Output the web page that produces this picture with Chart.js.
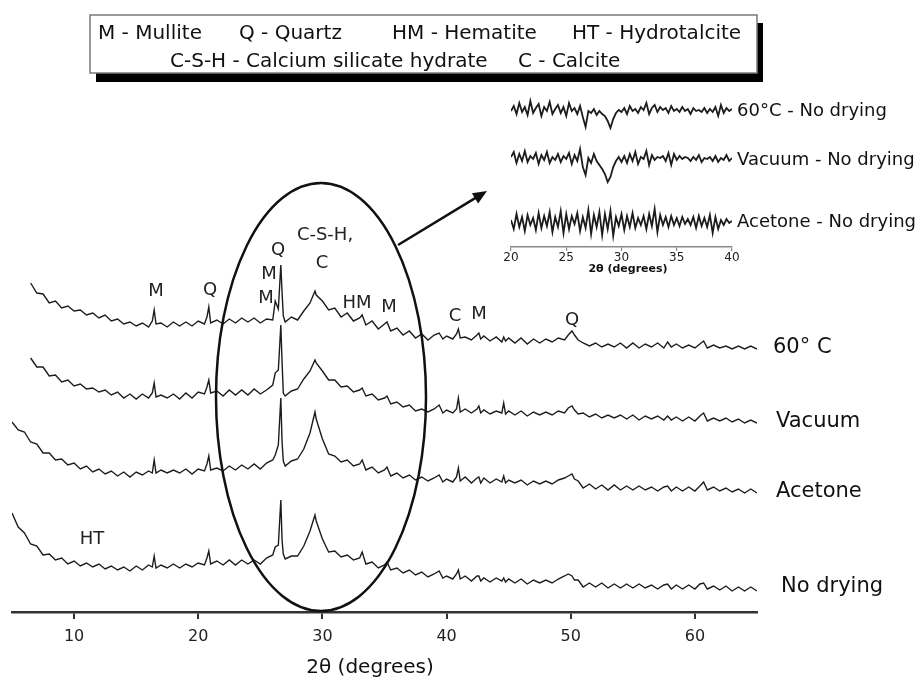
<!DOCTYPE html>
<html>
<head>
<meta charset="utf-8">
<script src="https://cdn.jsdelivr.net/npm/chart.js@4.4.1/dist/chart.umd.min.js"></script>
<style>
  html, body { margin: 0; padding: 0; background: #fff; }
  #wrap { position: relative; width: 920px; height: 682px; }
  #main { position: absolute; left: 0; top: 0; }
  #inset { position: absolute; left: 490px; top: 85px; }
</style>
</head>
<body>
<div id="wrap">
  <canvas id="main" width="920" height="682"></canvas>
  <canvas id="inset" width="430" height="190"></canvas>
</div>
<script>
// XRD patterns, stacked (intensity offset per sample, arbitrary units)

const twoTheta = [
  5.0, 5.5, 6.0, 6.5, 7.0, 7.5, 8.0, 8.5, 9.0, 9.5,
  10.0, 10.5, 11.0, 11.5, 12.0, 12.5, 13.0, 13.5, 14.0, 14.5,
  15.0, 15.5, 16.0, 16.3, 16.45, 16.6, 17.0, 17.5, 18.0, 18.5,
  19.0, 19.5, 20.0, 20.5, 20.7, 20.85, 21.0, 21.5, 22.0, 22.5,
  23.0, 23.5, 24.0, 24.5, 25.0, 25.5, 26.0, 26.2, 26.45, 26.65,
  26.75, 26.85, 27.0, 27.5, 28.0, 28.5, 29.0, 29.4, 29.5, 30.0,
  30.5, 31.0, 31.5, 32.0, 32.5, 33.0, 33.2, 33.5, 34.0, 34.5,
  35.0, 35.2, 35.5, 36.0, 36.5, 37.0, 37.5, 38.0, 38.5, 39.0,
  39.4, 39.7, 40.0, 40.5, 40.8, 40.95, 41.1, 41.5, 42.0, 42.45,
  42.6, 42.75, 43.0, 43.5, 44.0, 44.45, 44.6, 44.75, 45.0, 45.5,
  46.0, 46.5, 47.0, 47.5, 48.0, 48.5, 49.0, 49.5, 49.8, 50.1,
  50.3, 50.6, 51.0, 51.5, 52.0, 52.5, 53.0, 53.5, 54.0, 54.5,
  55.0, 55.5, 56.0, 56.5, 57.0, 57.5, 57.8, 58.1, 58.5, 59.0,
  59.5, 60.0, 60.4, 60.7, 61.0, 61.5, 62.0, 62.5, 63.0, 63.5,
  64.0, 64.5, 65.0
];

const dried60C = [
  null, null, null, 329, 319, 318, 309, 311, 304, 306,
  301, 302, 297, 299, 294, 297, 291, 293, 288, 290,
  286, 289, 285, 291, 302, 288, 289, 285, 290, 286,
  290, 286, 291, 288, 295, 305, 289, 292, 288, 293,
  289, 294, 290, 294, 289, 293, 292, 311, 303, 347,
  320, 296, 290, 295, 292, 301, 309, 321, 317, 311,
  302, 304, 295, 299, 291, 294, 297, 287, 291, 283,
  288, 290, 281, 284, 277, 281, 274, 278, 272, 277,
  279, 273, 276, 273, 278, 283, 274, 275, 272, 277,
  279, 273, 276, 271, 275, 270, 275, 271, 274, 269,
  274, 268, 273, 269, 273, 270, 274, 272, 277, 281,
  277, 272, 269, 266, 269, 265, 268, 265, 269, 264,
  269, 264, 268, 265, 269, 264, 270, 265, 268, 264,
  267, 264, 268, 271, 264, 267, 264, 266, 263, 266,
  263, 266, 263
];

const vacuum = [
  null, null, null, 254, 245, 245, 236, 237, 230, 232,
  226, 228, 223, 224, 220, 222, 217, 220, 214, 218,
  213, 218, 214, 219, 229, 215, 217, 214, 218, 213,
  219, 214, 220, 218, 225, 232, 219, 221, 216, 222,
  217, 222, 217, 223, 218, 222, 227, 239, 242, 287,
  250, 219, 216, 221, 223, 233, 241, 252, 249, 241,
  232, 232, 225, 226, 220, 222, 224, 216, 218, 212,
  214, 216, 208, 210, 205, 207, 201, 203, 200, 203,
  207, 199, 202, 199, 203, 214, 200, 203, 199, 203,
  206, 199, 202, 198, 201, 199, 209, 198, 201, 197,
  201, 196, 200, 197, 200, 197, 201, 199, 204, 206,
  202, 198, 199, 195, 198, 194, 197, 194, 197, 193,
  197, 192, 196, 193, 196, 192, 196, 192, 195, 191,
  195, 191, 196, 199, 191, 194, 191, 194, 190, 193,
  189, 192, 189
];

const acetone = [
  190, 182, 180, 170, 168, 159, 159, 152, 153, 147,
  149, 143, 146, 140, 143, 138, 141, 136, 140, 135,
  140, 137, 141, 139, 152, 139, 142, 139, 142, 139,
  143, 138, 143, 141, 148, 156, 142, 144, 141, 146,
  142, 147, 143, 148, 143, 149, 152, 157, 167, 214,
  170, 151, 146, 151, 153, 163, 179, 200, 193, 173,
  158, 156, 150, 152, 146, 148, 152, 142, 145, 139,
  142, 145, 136, 139, 134, 137, 132, 135, 131, 134,
  137, 130, 133, 130, 135, 144, 131, 135, 129, 134,
  135, 129, 134, 129, 133, 130, 136, 129, 132, 129,
  132, 127, 131, 128, 131, 128, 132, 134, 136, 138,
  133, 131, 124, 128, 123, 127, 122, 127, 122, 126,
  122, 126, 122, 125, 121, 125, 126, 121, 125, 121,
  125, 121, 126, 130, 122, 125, 121, 124, 120, 123,
  119, 123, 119
];

const noDrying = [
  99, 85, 79, 68, 66, 57, 58, 52, 54, 48,
  51, 46, 49, 45, 48, 43, 46, 42, 45, 41,
  46, 42, 47, 45, 56, 44, 47, 44, 48, 44,
  48, 45, 49, 47, 54, 61, 48, 51, 47, 52,
  47, 52, 48, 52, 48, 54, 57, 65, 67, 112,
  72, 58, 53, 56, 56, 66, 81, 97, 91, 73,
  60, 61, 55, 57, 52, 54, 60, 48, 50, 44,
  47, 50, 42, 44, 39, 42, 37, 40, 35, 38,
  41, 34, 36, 33, 38, 42, 33, 36, 31, 36,
  36, 31, 34, 30, 34, 31, 34, 30, 33, 29,
  33, 28, 32, 29, 32, 29, 33, 36, 38, 36,
  32, 32, 25, 29, 25, 29, 24, 28, 24, 28,
  24, 28, 24, 27, 23, 27, 28, 23, 27, 23,
  27, 23, 28, 29, 23, 26, 22, 26, 21, 25,
  21, 25, 21
];

const mainTicks = [10, 20, 30, 40, 50, 60];
const sampleNames = ['60° C', 'Vacuum', 'Acetone', 'No drying'];

// inset: difference patterns (sample minus no drying), offset
const insetTheta = [
  20.0, 20.25, 20.5, 20.75, 21.0, 21.25, 21.5, 21.75,
  22.0, 22.25, 22.5, 22.75, 23.0, 23.25, 23.5, 23.75,
  24.0, 24.25, 24.5, 24.75, 25.0, 25.25, 25.5, 25.75,
  26.0, 26.25, 26.5, 26.75, 27.0, 27.25, 27.5, 27.75,
  28.0, 28.25, 28.5, 28.75, 29.0, 29.25, 29.5, 29.75,
  30.0, 30.25, 30.5, 30.75, 31.0, 31.25, 31.5, 31.75,
  32.0, 32.25, 32.5, 32.75, 33.0, 33.25, 33.5, 33.75,
  34.0, 34.25, 34.5, 34.75, 35.0, 35.25, 35.5, 35.75,
  36.0, 36.25, 36.5, 36.75, 37.0, 37.25, 37.5, 37.75,
  38.0, 38.25, 38.5, 38.75, 39.0, 39.25, 39.5, 39.75,
  40.0
];

const diff60C = [
  136, 141, 133, 144, 135, 140, 132, 146,
  134, 139, 143, 131, 140, 136, 145, 133,
  138, 142, 134, 140, 131, 144, 136, 139,
  133, 141, 130, 120, 136, 134, 138, 132,
  136, 133, 131, 126, 119, 128, 134, 137,
  135, 139, 133, 141, 136, 138, 134, 140,
  137, 144, 133, 139, 142, 135, 140, 137,
  139, 134, 141, 136, 138, 135, 140, 136,
  138, 133, 139, 136, 137, 135, 139, 134,
  138, 135, 140, 131, 142, 134, 139, 136,
  138
];

const diffVacuum = [
  90, 95, 84, 93, 86, 96, 85, 91,
  88, 94, 83, 92, 87, 95, 84, 90,
  87, 93, 85, 91, 88, 94, 83, 92,
  86, 98, 80, 72, 89, 84, 93, 86,
  82, 78, 73, 65, 70, 80, 86, 90,
  85, 91, 84, 93, 86, 95, 83, 90,
  88, 96, 82, 92, 87, 90, 89, 91,
  86, 94, 82, 93, 87, 91, 88, 90,
  89, 86, 90, 87, 92, 85, 89, 88,
  90, 86, 91, 85, 89, 87, 92, 86,
  89
];

const diffAcetone = [
  27, 18, 33, 20, 30, 16, 32, 22,
  29, 17, 34, 19, 31, 21, 35, 15,
  30, 20, 36, 14, 33, 18, 31, 23,
  34, 16, 30, 19, 37, 13, 32, 20,
  35, 12, 33, 18, 36, 11, 30, 21,
  33, 17, 31, 20, 34, 19, 29, 22,
  31, 18, 33, 21, 38, 15, 32, 22,
  30, 20, 31, 22, 29, 21, 30, 23,
  28, 22, 30, 19, 31, 21, 29, 20,
  32, 14, 30, 18, 27, 22, 28, 24,
  26
];

const insetTicks = [20, 25, 30, 35, 40];
const insetNames = ['60°C - No drying', 'Vacuum - No drying', 'Acetone - No drying'];

// annotation text (pixel placement)
const legendItems = [
  ['M - Mullite', 98, 34], ['Q - Quartz', 239, 34], ['HM - Hematite', 392, 34],
  ['HT - Hydrotalcite', 572, 34],
  ['C-S-H - Calcium silicate hydrate', 170, 62], ['C - Calcite', 518, 62]
];
const peakLabels = [
  ['M', 156, 291], ['Q', 210, 290], ['M', 269, 274], ['M', 266, 298],
  ['Q', 278, 250], ['C-S-H,', 325, 235], ['C', 322, 263],
  ['HM', 357, 303], ['M', 389, 307], ['C', 455, 316], ['M', 479, 314],
  ['Q', 572, 320], ['HT', 92, 539]
];
const sampleLabelPos = [[773, 348], [776, 422], [776, 492], [781, 587]];

const FONT = '"DejaVu Sans", Verdana, sans-serif';
const pts = (xs, ys) => xs.map((x, i) => ({ x, y: ys[i] }));

function lineSet(label, xs, ys, width) {
  return {
    label,
    data: pts(xs, ys),
    borderColor: '#1c1c1c',
    borderWidth: width,
    pointRadius: 0,
    tension: 0,
    spanGaps: false
  };
}

const overlay = {
  id: 'overlay',
  afterDraw(chart) {
    const ctx = chart.ctx;
    ctx.save();

    // legend box with drop shadow
    ctx.fillStyle = '#000';
    ctx.fillRect(96, 23, 667, 59);
    ctx.fillStyle = '#fff';
    ctx.fillRect(90, 15, 667, 58);
    ctx.strokeStyle = '#7a7a7a';
    ctx.lineWidth = 1.5;
    ctx.strokeRect(90, 15, 667, 58);

    ctx.fillStyle = '#111';
    ctx.textBaseline = 'middle';
    ctx.textAlign = 'left';
    ctx.font = '20px ' + FONT;
    legendItems.forEach(([t, x, y]) => ctx.fillText(t, x, y));

    // peak labels
    ctx.textAlign = 'center';
    ctx.font = '18px ' + FONT;
    ctx.fillStyle = '#222';
    peakLabels.forEach(([t, x, y]) => ctx.fillText(t, x, y));

    // sample names
    ctx.textAlign = 'left';
    ctx.font = '21px ' + FONT;
    ctx.fillStyle = '#111';
    sampleNames.forEach((t, i) => ctx.fillText(t, sampleLabelPos[i][0], sampleLabelPos[i][1]));

    // x axis title
    ctx.textAlign = 'center';
    ctx.font = '20px ' + FONT;
    ctx.fillText('2θ (degrees)', 370, 668);

    // ellipse around 20-40 region
    ctx.strokeStyle = '#111';
    ctx.lineWidth = 2.5;
    ctx.beginPath();
    ctx.ellipse(321, 397, 105, 214, 0, 0, Math.PI * 2);
    ctx.stroke();

    // arrow to inset
    const x0 = 398, y0 = 245, x1 = 487, y1 = 191;
    const a = Math.atan2(y1 - y0, x1 - x0);
    ctx.beginPath();
    ctx.moveTo(x0, y0);
    ctx.lineTo(x1 - 10 * Math.cos(a), y1 - 10 * Math.sin(a));
    ctx.stroke();
    ctx.beginPath();
    ctx.moveTo(x1, y1);
    ctx.lineTo(x1 - 14 * Math.cos(a) + 6 * Math.sin(a), y1 - 14 * Math.sin(a) - 6 * Math.cos(a));
    ctx.lineTo(x1 - 14 * Math.cos(a) - 6 * Math.sin(a), y1 - 14 * Math.sin(a) + 6 * Math.cos(a));
    ctx.closePath();
    ctx.fillStyle = '#111';
    ctx.fill();

    ctx.restore();
  }
};

new Chart(document.getElementById('main'), {
  type: 'line',
  data: {
    datasets: [
      lineSet(sampleNames[0], twoTheta, dried60C, 1.4),
      lineSet(sampleNames[1], twoTheta, vacuum, 1.4),
      lineSet(sampleNames[2], twoTheta, acetone, 1.4),
      lineSet(sampleNames[3], twoTheta, noDrying, 1.4)
    ]
  },
  options: {
    responsive: false,
    animation: false,
    layout: { padding: { left: 12, right: 163, top: 0, bottom: 0 } },
    plugins: { legend: { display: false }, tooltip: { enabled: false } },
    scales: {
      x: {
        type: 'linear',
        min: 5,
        max: 65,
        afterBuildTicks: (s) => { s.ticks = mainTicks.map(v => ({ value: v })); },
        afterFit: (s) => { s.height = 70; },
        ticks: { font: { family: FONT, size: 16 }, color: '#222', padding: 8, maxRotation: 0 },
        grid: { display: true, drawOnChartArea: false, drawTicks: true, tickLength: 7, color: '#333', lineWidth: 2 },
        border: { display: true, color: '#333', width: 2.5 }
      },
      y: { display: false, min: 0, max: 612 }
    }
  },
  plugins: [overlay]
});

const insetOverlay = {
  id: 'insetOverlay',
  afterDraw(chart) {
    const ctx = chart.ctx;
    ctx.save();
    ctx.fillStyle = '#111';
    ctx.textBaseline = 'middle';
    ctx.textAlign = 'left';
    ctx.font = '18px ' + FONT;
    const yPix = [26, 75, 137];
    insetNames.forEach((t, i) => ctx.fillText(t, 247, yPix[i]));
    ctx.textAlign = 'center';
    ctx.font = 'bold 11px ' + FONT;
    ctx.fillText('2θ (degrees)', 138, 184);
    ctx.restore();
  }
};

new Chart(document.getElementById('inset'), {
  type: 'line',
  data: {
    datasets: [
      lineSet(insetNames[0], insetTheta, diff60C, 1.8),
      lineSet(insetNames[1], insetTheta, diffVacuum, 1.8),
      lineSet(insetNames[2], insetTheta, diffAcetone, 1.8)
    ]
  },
  options: {
    responsive: false,
    animation: false,
    layout: { padding: { left: 21, right: 188, top: 0, bottom: 0 } },
    plugins: { legend: { display: false }, tooltip: { enabled: false } },
    scales: {
      x: {
        type: 'linear',
        min: 20,
        max: 40,
        afterBuildTicks: (s) => { s.ticks = insetTicks.map(v => ({ value: v })); },
        afterFit: (s) => { s.height = 28; },
        ticks: { font: { family: FONT, size: 12 }, color: '#222', padding: 0, maxRotation: 0 },
        grid: { display: true, drawOnChartArea: false, drawTicks: true, tickLength: 4, color: '#888', lineWidth: 1.2 },
        border: { display: true, color: '#888', width: 1.5 }
      },
      y: { display: false, min: 0, max: 162 }
    }
  },
  plugins: [insetOverlay]
});
</script>
</body>
</html>
